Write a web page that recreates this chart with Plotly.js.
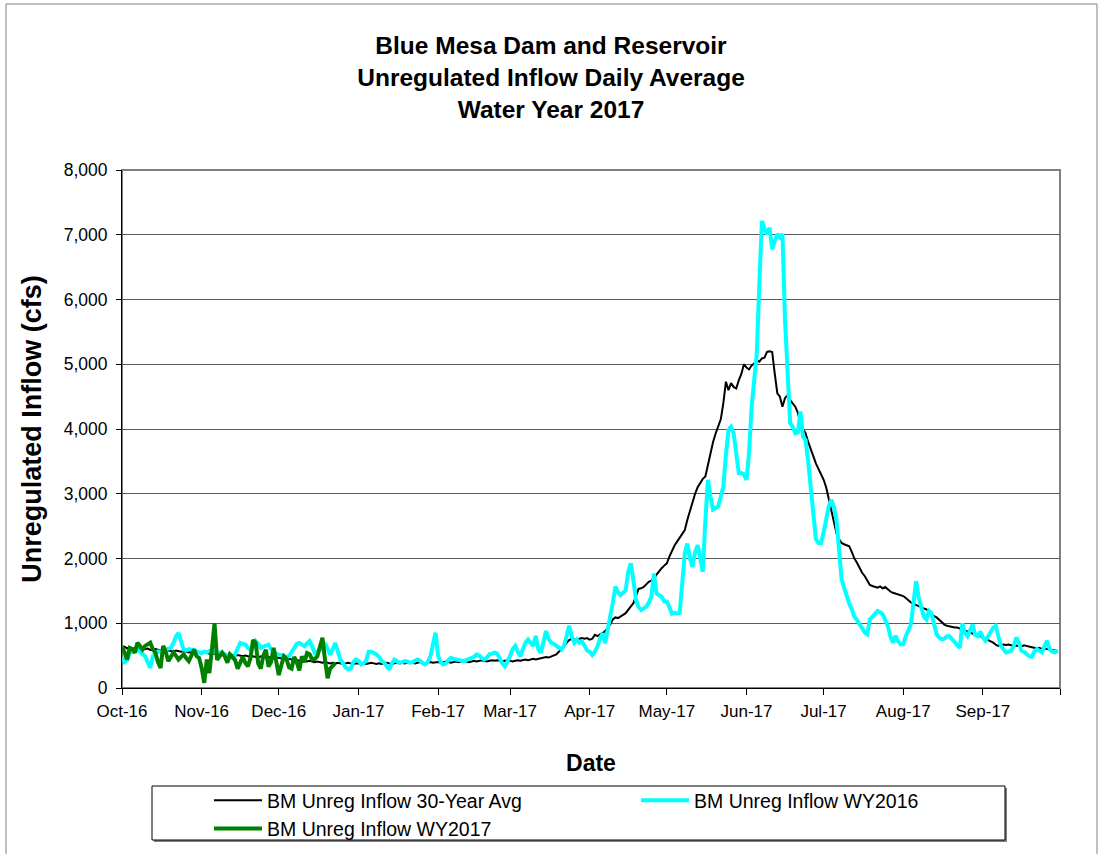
<!DOCTYPE html>
<html>
<head>
<meta charset="utf-8">
<script src="https://cdn.plot.ly/plotly-3.0.1.min.js"></script>
<style>
  html, body { margin: 0; padding: 0; background: #fff; }
  #chart { width: 1102px; height: 854px; }
</style>
</head>
<body>
<div id="chart"></div>
<script>
// ---- Data (daily values, Water Year: Oct 1 .. Sep 30) ----
const startDate = '2016-10-01';

const monthTicks = ['2016-10-01','2016-11-01','2016-12-01','2017-01-01','2017-02-01','2017-03-01',
                    '2017-04-01','2017-05-01','2017-06-01','2017-07-01','2017-08-01','2017-09-01','2017-10-01'];
const monthLabels = ['Oct-16','Nov-16','Dec-16','Jan-17','Feb-17','Mar-17',
                     'Apr-17','May-17','Jun-17','Jul-17','Aug-17','Sep-17',''];

const yTicks = [0,1000,2000,3000,4000,5000,6000,7000,8000];

// BM Unreg Inflow 30-Year Avg (cfs)
const avg30 = [
  620,640,610,630,600,620,610,600,590,600,610,590,580,600,590,580,570,590,580,570,560,580,570,560,570,560,550,560,550,540,550,
  540,550,540,530,540,530,520,540,530,520,510,520,510,500,510,500,490,500,490,480,490,480,470,490,480,470,480,470,460,470,
  470,460,450,460,450,440,450,430,420,430,420,410,420,410,400,410,400,390,400,390,380,390,380,390,380,370,380,390,380,370,380,
  380,390,380,370,380,390,380,370,380,370,380,390,380,370,380,390,380,390,380,390,400,390,380,390,400,390,380,390,400,390,400,
  400,390,400,410,400,390,400,410,400,410,420,410,400,410,420,410,420,430,420,410,420,430,420,430,420,410,420,430,
  420,410,420,430,420,430,440,430,440,450,440,450,460,470,480,470,490,500,520,560,600,640,700,740,760,750,740,760,770,760,770,
  745,760,820,800,830,845,880,925,980,1060,1090,1080,1100,1130,1155,1200,1260,1310,1420,1530,1540,1560,1600,1640,1660,1690,1750,1810,1850,1890,
  1925,2030,2130,2200,2260,2320,2400,2440,2600,2745,2850,3000,3100,3165,3230,3265,3450,3625,3800,3930,4035,4150,4400,4730,4600,4710,4650,4625,4750,4850,5000,
  4950,4920,4980,5010,5060,5040,5090,5100,5190,5200,5190,4855,4550,4500,4345,4480,4520,4445,4400,4345,4250,4090,4000,3935,3800,3675,3580,3470,3380,3290,
  3220,3100,2910,2750,2550,2395,2300,2240,2220,2200,2190,2100,2000,1935,1850,1780,1730,1650,1590,1575,1560,1550,1570,1540,1560,1520,1490,1470,1460,1440,1430,
  1420,1390,1350,1320,1300,1280,1260,1240,1230,1215,1180,1140,1110,1090,1050,1010,980,960,950,940,935,935,920,910,900,880,860,840,820,805,800,
  780,760,740,730,700,670,650,660,670,665,670,660,650,655,650,640,660,650,650,630,620,610,620,600,610,600,600,590,580,575
];

// BM Unreg Inflow WY2016 (cfs)
const wy2016 = [
  470,400,430,540,560,580,590,560,520,490,400,310,490,540,565,560,580,590,600,620,690,800,850,700,590,580,600,590,590,560,550,
  540,560,550,570,565,550,560,540,540,520,500,480,460,520,620,695,680,670,620,590,640,725,680,620,640,660,670,600,560,530,
  515,500,490,480,490,560,640,680,695,670,645,690,725,640,540,560,590,620,695,600,515,600,695,560,440,380,320,290,300,400,440,
  420,365,380,420,560,560,540,520,480,420,390,330,285,380,440,410,390,400,415,410,390,400,420,440,420,380,365,400,490,700,855,
  500,400,365,380,430,465,450,440,440,430,415,430,450,465,480,520,500,460,440,470,520,530,545,530,450,380,335,400,
  490,600,650,560,490,600,700,750,700,650,805,600,545,700,880,760,700,680,650,620,595,650,800,960,800,700,750,700,720,640,580,
  560,510,560,640,760,845,690,900,1050,1320,1565,1480,1435,1470,1510,1800,1925,1665,1360,1250,1205,1230,1255,1320,1410,1770,1460,1430,1410,1335,
  1335,1250,1150,1160,1150,1160,1700,2080,2230,2000,1870,2100,2205,1950,1795,2590,3215,2960,2755,2780,2805,2950,3110,3600,3985,4035,3935,3625,3320,3320,3300,
  3215,3625,4345,4800,5165,6240,7215,7100,7010,7110,6780,6900,7010,6960,7010,5675,4855,4090,4035,3935,3950,4270,3880,3830,3500,3060,2700,2300,2240,2240,
  2400,2600,2800,2910,2800,2600,2100,1680,1550,1420,1300,1215,1100,1050,985,900,860,830,1060,1100,1150,1190,1170,1140,1050,960,800,700,805,720,675,
  675,800,910,985,1320,1650,1400,1215,1100,1060,1190,1150,1000,830,780,750,760,800,800,760,700,680,620,1000,850,800,900,980,820,800,870,
  780,730,800,880,930,960,800,650,600,550,560,575,650,780,700,575,560,520,490,480,560,600,580,550,650,730,600,560,550,575
];

// BM Unreg Inflow WY2017 (cfs) - data through late December
const wy2017 = [
  650,540,440,620,600,545,700,650,595,650,680,700,600,545,400,310,650,560,415,480,545,500,440,480,520,460,415,500,595,490,465,
  305,80,440,230,600,1000,435,490,545,490,390,520,465,435,300,390,480,385,335,465,740,700,380,300,500,590,330,400,620,410,
  200,350,490,450,320,300,480,400,270,490,400,540,520,440,450,490,650,775,435,150,300,335,385
];

// ---- Build daily date axis from the start date ----
function dailyDates(n) {
  const t0 = Date.parse(startDate + 'T00:00:00Z');
  const out = [];
  for (let i = 0; i < n; i++) out.push(new Date(t0 + i * 86400000).toISOString().slice(0, 10));
  return out;
}

const FONT = 'Liberation Sans, Arial, Helvetica, sans-serif';

// pixel helpers for paper-referenced decorations (plot area: x 122..1060, y 170..688)
const PL = 122, PR = 1060, PT = 170, PB = 688;
const px = v => (v - PL) / (PR - PL);
const py = v => (PB - v) / (PB - PT);

const traces = [
  { x: dailyDates(avg30.length), y: avg30, type: 'scatter', mode: 'lines',
    name: 'BM Unreg Inflow 30-Year Avg', line: { color: '#000000', width: 2 } },
  { x: dailyDates(wy2016.length), y: wy2016, type: 'scatter', mode: 'lines',
    name: 'BM Unreg Inflow WY2016', line: { color: '#00FFFF', width: 4 } },
  { x: dailyDates(wy2017.length), y: wy2017, type: 'scatter', mode: 'lines',
    name: 'BM Unreg Inflow WY2017', line: { color: '#008000', width: 4 } }
];

const layout = {
  width: 1102, height: 854,
  margin: { l: PL, r: 1102 - PR, t: PT, b: 854 - PB, pad: 0, autoexpand: false },
  paper_bgcolor: '#ffffff', plot_bgcolor: '#ffffff',
  font: { family: FONT, color: '#000000', size: 17 },
  title: {
    text: 'Blue Mesa Dam and Reservoir<br>Unregulated Inflow Daily Average<br>Water Year 2017',
    font: { family: FONT, size: 24.5, weight: 700, color: '#000' },
    x: 0.5, xref: 'container', xanchor: 'center',
    y: 1 - 54 / 854, yref: 'container', yanchor: 'top'
  },
  xaxis: {
    type: 'date',
    range: [monthTicks[0], monthTicks[monthTicks.length - 1]],
    tickmode: 'array', tickvals: monthTicks, ticktext: monthLabels,
    ticks: 'outside', ticklen: 6, tickcolor: '#000', tickwidth: 1,
    ticklabelstandoff: 2,
    showline: true, linecolor: '#000', linewidth: 1,
    showgrid: false, zeroline: false,
    tickfont: { family: FONT, size: 17, color: '#000' },
    title: { text: 'Date', font: { family: FONT, size: 23, weight: 700, color: '#000' }, standoff: 34 },
    fixedrange: true
  },
  yaxis: {
    range: [0, 8000],
    tickmode: 'array', tickvals: yTicks, tickformat: ',d',
    ticks: 'outside', ticklen: 5, tickcolor: '#000', tickwidth: 1,
    ticklabelstandoff: 5,
    showline: true, linecolor: '#000', linewidth: 1,
    showgrid: true, gridcolor: '#5a5a5a', gridwidth: 1, zeroline: false,
    tickfont: { family: FONT, size: 17.5, color: '#000' },
    title: { text: 'Unregulated Inflow (cfs)', font: { family: FONT, size: 27, weight: 700, color: '#000' }, standoff: 14 },
    fixedrange: true
  },
  legend: {
    orientation: 'h', x: px(209), xanchor: 'left', y: py(781), yanchor: 'top',
    bgcolor: 'rgba(0,0,0,0)', borderwidth: 0,
    font: { family: FONT, size: 19.5, color: '#000' },
    entrywidth: 364, entrywidthmode: 'pixels', itemwidth: 48,
    tracegroupgap: 0,
    traceorder: 'normal'
  },
  shapes: [
    // outer chart frame
    { type: 'rect', xref: 'paper', yref: 'paper', x0: px(6), x1: px(1097), y0: py(870), y1: py(4),
      line: { color: '#808080', width: 1 }, fillcolor: 'rgba(0,0,0,0)', layer: 'below' },
    // plot-area border (top / right)
    { type: 'rect', xref: 'paper', yref: 'paper', x0: 0, x1: 1, y0: 0, y1: 1,
      line: { color: '#808080', width: 2 }, fillcolor: 'rgba(0,0,0,0)', layer: 'below' },
    // legend box shadow
    { type: 'rect', xref: 'paper', yref: 'paper', x0: px(154), x1: px(1007), y0: py(842), y1: py(788),
      line: { width: 0 }, fillcolor: '#7f7f7f', layer: 'below' },
    // legend box
    { type: 'rect', xref: 'paper', yref: 'paper', x0: px(152), x1: px(1005), y0: py(840), y1: py(786),
      line: { color: '#000', width: 1 }, fillcolor: '#ffffff', layer: 'below' }
  ]
};

Plotly.newPlot('chart', traces, layout, { displayModeBar: false, staticPlot: true });
</script>
</body>
</html>
